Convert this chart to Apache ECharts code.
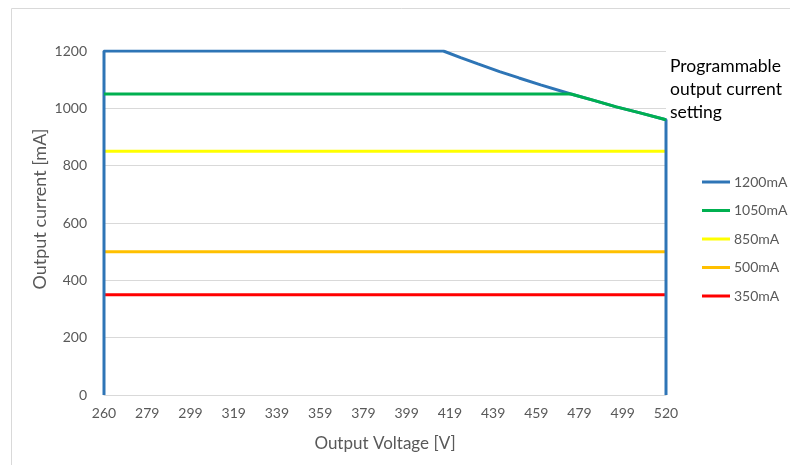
<!DOCTYPE html>
<html>
<head>
<meta charset="utf-8">
<script src="https://cdn.jsdelivr.net/npm/echarts@6/dist/echarts.min.js"></script>
<style>html,body{margin:0;padding:0;background:#fff}#c{width:790px;height:465px}</style>
</head>
<body>
<div id="c"></div>
<script>
var xTickLabels = ['260','279','299','319','339','359','379','399','419','439','459','479','499','520'];
var seriesNames = ['1200mA','1050mA','850mA','500mA','350mA'];
var s1200 = [[260,0],[260,1200],[417,1200],[425,1177],[433,1155],[443,1128],[452,1106],[462,1082],[476,1050],[487,1027],[497,1005],[508,984],[520,960],[520,0]];
var s1050 = [[260,1050],[476,1050],[487,1027],[497,1005],[508,984],[520,960]];
var s850 = [[260,850],[520,850]];
var s500 = [[260,500],[520,500]];
var s350 = [[260,350],[520,350]];
var colors = ['#2E75B6','#00B050','#FFFF00','#FFC000','#FF0000'];

var chart = echarts.init(document.getElementById('c'), null, {renderer:'canvas'});
var font = 'Lato, "Open Sans", sans-serif';
function mk(i, data, z){
  return {name: seriesNames[i], type:'line', data:data, symbol:'none', z:z,
    lineStyle:{color:colors[i], width:3}, itemStyle:{color:colors[i]}, animation:false};
}
chart.setOption({
  animation:false,
  textStyle:{fontFamily:font},
  grid:{left:104, right:124, top:51, bottom:70, containLabel:false},
  graphic:[
    {type:'rect', left:9, top:6, shape:{width:800, height:500}, style:{fill:'none', stroke:'#d9d9d9', lineWidth:1}, silent:true},
    {type:'text', left:670, top:55, style:{text:'Programmable\noutput current\nsetting', font:'17.5px '+font, fill:'#000', lineHeight:23}}
  ],
  legend:{orient:'vertical', left:697, top:170, itemWidth:28, itemHeight:3, itemGap:14.5, icon:'rect',
    textStyle:{color:'#595959', fontSize:14, fontFamily:font, padding:[0,0,0,-1]}, data:seriesNames},
  xAxis:{type:'value', min:260, max:520, interval:20,
    name:'Output Voltage [V]', nameLocation:'middle', nameGap:40,
    nameTextStyle:{color:'#595959', fontSize:17, fontFamily:font},
    axisLine:{show:true, lineStyle:{color:'#d9d9d9'}}, axisTick:{show:false}, splitLine:{show:false},
    axisLabel:{color:'#595959', fontSize:14, margin:11, fontFamily:font,
      formatter:function(v){ return xTickLabels[Math.round((v-260)/20)]; }}},
  yAxis:{type:'value', min:0, max:1200, interval:200,
    name:'Output current [mA]', nameLocation:'middle', nameGap:55, nameMoveOverlap:false,
    nameTextStyle:{color:'#595959', fontSize:18, fontFamily:font, padding:[0,0,0,28]},
    axisLine:{show:false}, axisTick:{show:false},
    splitLine:{lineStyle:{color:'#d9d9d9'}},
    axisLabel:{color:'#595959', fontSize:14, margin:17, fontFamily:font,
      formatter:function(v){ return String(v); }}},
  series:[mk(0,s1200,4), mk(1,s1050,5), mk(2,s850,2), mk(3,s500,2), mk(4,s350,2)]
});
</script>
</body>
</html>
